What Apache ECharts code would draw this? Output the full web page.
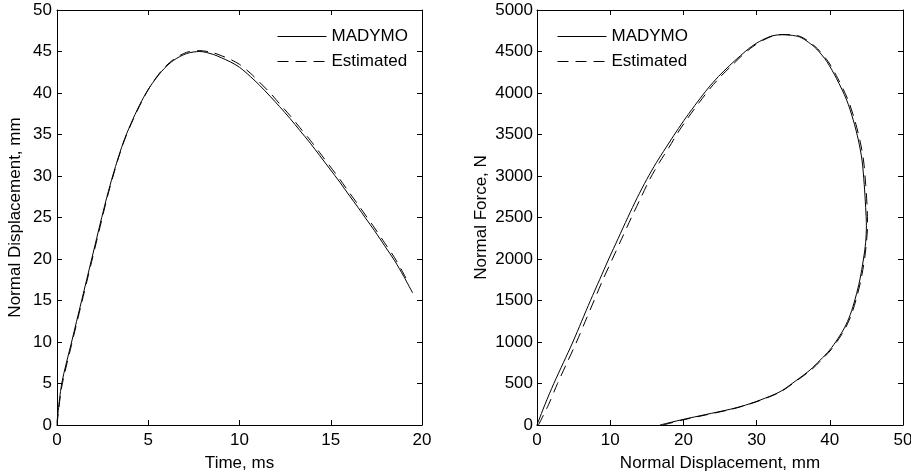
<!DOCTYPE html>
<html>
<head>
<meta charset="utf-8">
<script src="https://cdn.jsdelivr.net/npm/echarts@6/dist/echarts.min.js"></script>
<style>
html,body{margin:0;padding:0;background:#fff;}
#chart{width:911px;height:474px;}
</style>
</head>
<body>
<div id="chart"></div>
<script>
// ---- Data ----
const seriesNames = ['MADYMO', 'Estimated'];
const leftXTicks = [0, 5, 10, 15, 20];
const leftYTicks = [0, 5, 10, 15, 20, 25, 30, 35, 40, 45, 50];
const rightXTicks = [0, 10, 20, 30, 40, 50];
const rightYTicks = [0, 500, 1000, 1500, 2000, 2500, 3000, 3500, 4000, 4500, 5000];

// Left: time (ms) vs normal displacement (mm)
const leftMadymo = [
  [0,0.3],[0.26,5],[0.8,10],[1.35,15],[1.9,20],[2.45,25],[2.75,27.6],[3.05,30.0],[3.37,32.3],[3.71,34.5],
  [4.17,36.9],[4.63,39.0],[5.08,40.7],[5.73,42.6],[6.36,43.9],[7.1,44.75],[7.83,45.0],[8.56,44.65],
  [9.0,44.25],[9.5,43.75],[10.0,43.1],[10.59,42.0],[11.1,40.93],[11.68,39.6],[12.2,38.35],
  [12.78,36.9],[13.3,35.5],[13.88,33.95],[14.4,32.45],[14.95,30.85],[15.5,29.25],[16.0,27.7],
  [16.5,26.2],[16.9,24.95],[17.4,23.4],[17.95,21.6],[18.5,19.8],[19.0,17.9],[19.49,15.9]
];
const leftEstimated = [
  [0,0],[0.26,4.6],[0.8,9.7],[1.35,14.7],[1.9,19.7],[2.45,24.7],[2.75,27.4],[3.05,29.8],[3.37,32.2],[3.71,34.4],
  [4.17,36.8],[4.63,38.9],[5.08,40.7],[5.73,42.7],[6.36,44.0],[7.1,44.9],[7.83,45.1],[8.56,44.85],
  [9.0,44.5],[9.5,44.05],[10.0,43.45],[10.59,42.4],[11.1,41.3],[11.68,40.0],[12.2,38.7],
  [12.78,37.25],[13.3,35.85],[13.88,34.3],[14.4,32.8],[14.95,31.2],[15.5,29.6],[16.0,28.05],
  [16.5,26.55],[16.9,25.3],[17.4,23.75],[17.95,21.95],[18.5,20.15],[19.0,18.2],[19.26,17.1]
];

// Right: normal displacement (mm) vs normal force (N)
const rightMadymo = [
  [0,0],[1.1,250],[2.3,500],[3.6,750],[4.9,1000],[6.1,1250],[7.3,1500],[8.55,1750],[9.8,2000],
  [11.1,2250],[12.4,2500],[13.7,2740],[15.0,2960],[16.3,3160],[17.6,3340],[19.0,3530],[20.4,3710],
  [21.9,3890],[23.4,4060],[24.8,4200],[26.3,4330],[27.8,4450],[29.3,4560],[30.8,4640],[32.2,4690],
  [33.4,4702],[34.6,4697],[35.9,4675],[37.1,4610],[38.2,4530],[39.6,4378],[40.9,4177],[42.3,3916],
  [43.2,3675],[43.9,3434],[44.4,3193],[44.7,2900],[44.9,2620],[45.0,2400],[44.9,2200],[44.6,2000],
  [44.1,1747],[43.5,1530],[42.8,1330],[42.0,1170],[41.1,1040],[40.0,904],[38.7,783],[37.3,663],
  [35.5,542],[33.2,401],[30.5,301],[28.5,240],[26.4,190],[23.0,125],[20.0,68],[16.8,0]
];
const rightEstimated = [
  [0.2,0],[1.6,250],[2.8,500],[4.1,750],[5.4,1000],[6.6,1250],[7.8,1500],[9.0,1750],[10.3,2000],
  [11.6,2250],[12.9,2500],[14.2,2740],[15.4,2960],[16.7,3160],[18.0,3340],[19.3,3530],[20.7,3710],
  [22.2,3890],[23.7,4060],[25.1,4200],[26.6,4330],[28.0,4450],[29.5,4560],[31.0,4640],[32.3,4690],
  [33.5,4705],[34.7,4700],[36.0,4680],[37.2,4615],[38.35,4530],[39.8,4375],[41.1,4175],[42.5,3915],
  [43.4,3675],[44.1,3434],[44.6,3193],[44.9,2900],[45.1,2620],[45.15,2400],[45.0,2200],[44.75,2000],
  [44.25,1747],[43.65,1530],[42.95,1330],[42.15,1170],[41.25,1040],[40.15,904],[38.85,783],[37.45,663],
  [35.6,542],[33.3,401],[30.6,300],[28.6,240],[26.5,188],[23.1,122],[20.1,64],[17.2,0]
];

// ---- Chart ----
const FONT = '"Liberation Sans", Arial, Helvetica, sans-serif';
const txt = {color:'#000', fontSize:17, fontFamily:FONT};
function ticksOf(arr){ return {min:arr[0], max:arr[arr.length-1], interval:arr[1]-arr[0]}; }
const plain = v => String(v);

function mainAxis(gridIndex, ticks, opts){
  return Object.assign({
    type:'value', gridIndex, ...ticksOf(ticks),
    axisLine:{show:true, onZero:false, lineStyle:{color:'#000', width:1}},
    axisTick:{show:true, inside:true, length:5, lineStyle:{color:'#000'}},
    axisLabel:{show:true, ...txt, formatter:plain},
    splitLine:{show:false},
    nameTextStyle:{...txt}
  }, opts);
}
function boxAxis(gridIndex, ticks, position){
  return {
    type:'value', gridIndex, position, ...ticksOf(ticks),
    axisLine:{show:true, onZero:false, lineStyle:{color:'#000', width:1}},
    axisTick:{show:true, inside:true, length:5, lineStyle:{color:'#000'}},
    axisLabel:{show:false},
    splitLine:{show:false}
  };
}

const solid = {color:'#000', width:1, type:'solid'};
const dashed = {color:'#000', width:1, type:[11,7]};

function lineSeries(name, data, xi, yi, style){
  return {
    type:'line', name, data, xAxisIndex:xi, yAxisIndex:yi,
    symbol:'none', showSymbol:false, smooth:0.3,
    lineStyle:style, itemStyle:{color:'#000'},
    animation:false, silent:true, clip:true
  };
}

function legendAt(left){
  return {orient:'vertical', left, top:28, padding:0, itemWidth:49, itemHeight:13, itemGap:8,
    data:seriesNames, textStyle:{...txt}, selectedMode:false,
    itemStyle:{opacity:0}, lineStyle:{width:1}};
}

const chart = echarts.init(document.getElementById('chart'), null, {renderer:'canvas'});
chart.setOption({
  backgroundColor:'#fff',
  animation:false,
  grid:[
    {left:57, top:10, width:365, height:415, containLabel:false, outerBoundsMode:'none'},
    {left:537, top:10, width:366, height:415, containLabel:false, outerBoundsMode:'none'}
  ],
  legend:[legendAt(277), legendAt(557)],
  xAxis:[
    mainAxis(0, leftXTicks, {position:'bottom', name:'Time, ms', nameLocation:'middle', nameGap:30,
      axisLabel:{show:true, ...txt, margin:7, formatter:plain}}),
    boxAxis(0, leftXTicks, 'top'),
    mainAxis(1, rightXTicks, {position:'bottom', name:'Normal Displacement, mm', nameLocation:'middle', nameGap:30,
      axisLabel:{show:true, ...txt, margin:7, formatter:plain}}),
    boxAxis(1, rightXTicks, 'top')
  ],
  yAxis:[
    mainAxis(0, leftYTicks, {position:'left', name:'Normal Displacement, mm', nameLocation:'middle', nameGap:33,
      axisLabel:{show:true, ...txt, margin:5, formatter:plain}}),
    boxAxis(0, leftYTicks, 'right'),
    mainAxis(1, rightYTicks, {position:'left', name:'Normal Force, N', nameLocation:'middle', nameGap:47,
      axisLabel:{show:true, ...txt, margin:4, formatter:plain}}),
    boxAxis(1, rightYTicks, 'right')
  ],
  series:[
    lineSeries('MADYMO', leftMadymo, 0, 0, solid),
    lineSeries('Estimated', leftEstimated, 0, 0, dashed),
    lineSeries('MADYMO', rightMadymo, 2, 2, solid),
    lineSeries('Estimated', rightEstimated, 2, 2, dashed)
  ]
});
</script>
</body>
</html>
